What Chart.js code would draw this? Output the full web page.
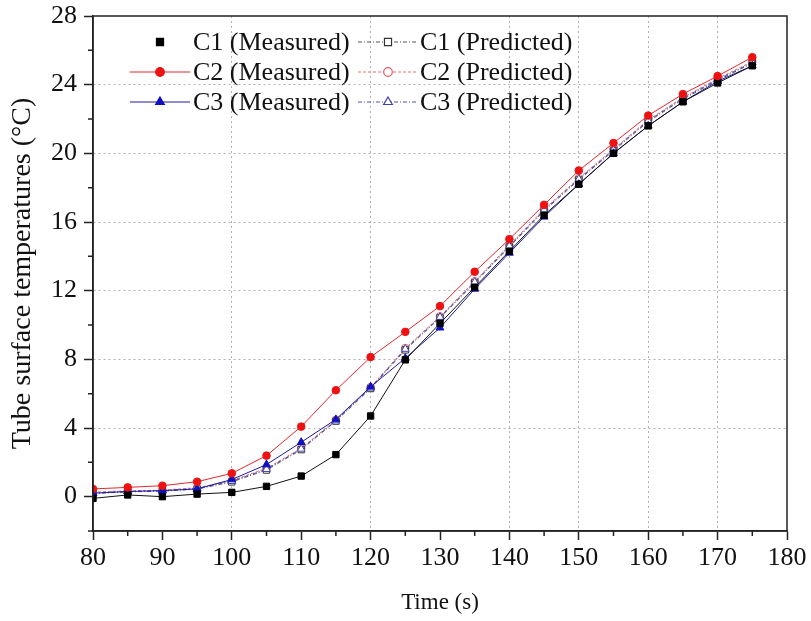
<!DOCTYPE html>
<html>
<head>
<meta charset="utf-8">
<script src="https://cdn.jsdelivr.net/npm/chart.js@4.4.1/dist/chart.umd.min.js"></script>
<style>
  html, body { margin: 0; padding: 0; background: #fff; }
  #wrap { width: 811px; height: 621px; }
</style>
</head>
<body>
<div id="wrap"><canvas id="tempChart" width="811" height="621"></canvas></div>
<script>
// Time axis (s)
const times = [80, 85, 90, 95, 100, 105, 110, 115, 120, 125, 130, 135, 140, 145, 150, 155, 160, 165, 170, 175];

// Measured tube surface temperatures (°C)
const c1Measured = [-0.1, 0.1, 0.0, 0.15, 0.25, 0.6, 1.2, 2.45, 4.7, 7.97, 10.1, 12.2, 14.3, 16.4, 18.2, 20.0, 21.6, 23.0, 24.1, 25.1];
const c2Measured = [0.45, 0.54, 0.64, 0.87, 1.36, 2.39, 4.08, 6.2, 8.13, 9.6, 11.1, 13.1, 15.0, 17.0, 19.0, 20.6, 22.2, 23.45, 24.5, 25.6];
const c3Measured = [0.2, 0.3, 0.35, 0.45, 1.0, 1.87, 3.17, 4.5, 6.4, 8.07, 9.84, 12.1, 14.2, 16.3, 18.2, 20.0, 21.6, 23.0, 24.2, 25.1];

// Predicted tube surface temperatures (°C)
const c1Predicted = [0.18, 0.28, 0.32, 0.44, 0.86, 1.55, 2.74, 4.4, 6.3, 8.55, 10.42, 12.45, 14.55, 16.65, 18.45, 20.15, 21.85, 23.15, 24.25, 25.25];
const c2Predicted = [0.26, 0.34, 0.38, 0.52, 0.94, 1.65, 2.82, 4.47, 6.38, 8.65, 10.5, 12.55, 14.65, 16.75, 18.55, 20.25, 21.95, 23.25, 24.35, 25.35];
const c3Predicted = [0.22, 0.31, 0.35, 0.48, 0.9, 1.6, 2.78, 4.43, 6.34, 8.6, 10.46, 12.5, 14.6, 16.7, 18.5, 20.2, 21.9, 23.2, 24.3, 25.3];

// Axis ticks
const xTickLabels = [80, 90, 100, 110, 120, 130, 140, 150, 160, 170, 180];
const yTickLabels = [0, 4, 8, 12, 16, 20, 24, 28];
const xGridAt = [100, 120, 140, 150, 160, 170];
const yGridAt = [4, 8, 12, 16, 20, 24];

const FONT = '"Liberation Serif", "Times New Roman", serif';

function toPoints(values) {
    return times.map((t, i) => ({ x: t, y: values[i] }));
}

// Marker drawing for the legend
function drawMarker(ctx, style, x, y, r, fill, stroke) {
    ctx.save();
    ctx.fillStyle = fill;
    ctx.strokeStyle = stroke;
    ctx.lineWidth = 1.2;
    ctx.setLineDash([]);
    ctx.beginPath();
    if (style === 'rect') {
        const s = r * Math.SQRT1_2;
        ctx.rect(x - s, y - s, 2 * s, 2 * s);
    } else if (style === 'triangle') {
        ctx.moveTo(x, y - r);
        ctx.lineTo(x + r * 0.866, y + r * 0.5);
        ctx.lineTo(x - r * 0.866, y + r * 0.5);
        ctx.closePath();
    } else {
        ctx.arc(x, y, r, 0, Math.PI * 2);
    }
    ctx.fill();
    ctx.stroke();
    ctx.restore();
}

const frameLegendPlugin = {
    id: 'frameLegend',
    afterDraw(chart) {
        const { ctx, chartArea, scales } = chart;

        // short minor ticks (odd steps)
        ctx.save();
        ctx.strokeStyle = '#222';
        ctx.lineWidth = 1.5;
        ctx.beginPath();
        scales.x.ticks.forEach((t) => {
            if (!xTickLabels.includes(t.value)) {
                const px = scales.x.getPixelForValue(t.value);
                ctx.moveTo(px, chartArea.bottom);
                ctx.lineTo(px, chartArea.bottom + 5);
            }
        });
        scales.y.ticks.forEach((t) => {
            if (!yTickLabels.includes(t.value)) {
                const py = scales.y.getPixelForValue(t.value);
                ctx.moveTo(chartArea.left, py);
                ctx.lineTo(chartArea.left - 5, py);
            }
        });
        ctx.stroke();
        // frame round plot area
        ctx.strokeRect(chartArea.left, chartArea.top, chartArea.right - chartArea.left, chartArea.bottom - chartArea.top);
        ctx.restore();

        // legend, two columns
        const cols = [{ lineX: 130, markX: 160, textX: 193 }, { lineX: 358, markX: 388, textX: 420 }];
        const rows = [42, 72, 102];
        chart.data.datasets.forEach((ds, i) => {
            const col = cols[i % 2];
            const y = rows[Math.floor(i / 2)];
            if (ds.showLegendLine !== false) {
                ctx.save();
                ctx.strokeStyle = ds.borderColor;
                ctx.lineWidth = ds.borderWidth;
                ctx.setLineDash(ds.borderDash || []);
                ctx.beginPath();
                ctx.moveTo(col.lineX, y);
                ctx.lineTo(col.lineX + 60, y);
                ctx.stroke();
                ctx.restore();
            }
            drawMarker(ctx, ds.pointStyle, col.markX, y, ds.pointRadius + 0.5, ds.pointBackgroundColor, ds.pointBorderColor);
            ctx.save();
            ctx.fillStyle = '#111';
            ctx.font = '26px ' + FONT;
            ctx.textBaseline = 'middle';
            ctx.fillText(ds.label, col.textX, y + 1);
            ctx.restore();
        });
    }
};

const ctx = document.getElementById('tempChart').getContext('2d');
new Chart(ctx, {
    type: 'line',
    data: {
        datasets: [
            {
                label: 'C1 (Measured)',
                data: toPoints(c1Measured),
                borderColor: '#111', borderWidth: 1,
                pointStyle: 'rect', pointRadius: 4.5,
                pointBackgroundColor: '#000', pointBorderColor: '#000',
                showLegendLine: false, order: 2
            },
            {
                label: 'C1 (Predicted)',
                data: toPoints(c1Predicted),
                borderColor: '#555', borderWidth: 1, borderDash: [4, 2, 1, 2],
                pointStyle: 'rect', pointRadius: 4.5,
                pointBackgroundColor: '#fff', pointBorderColor: '#333', order: 5
            },
            {
                label: 'C2 (Measured)',
                data: toPoints(c2Measured),
                borderColor: '#e8262b', borderWidth: 1,
                pointStyle: 'circle', pointRadius: 3.8,
                pointBackgroundColor: '#ee1111', pointBorderColor: '#ee1111', order: 1
            },
            {
                label: 'C2 (Predicted)',
                data: toPoints(c2Predicted),
                borderColor: '#e87070', borderWidth: 1, borderDash: [3, 2],
                pointStyle: 'circle', pointRadius: 3.8,
                pointBackgroundColor: '#fff', pointBorderColor: '#e06060', order: 6
            },
            {
                label: 'C3 (Measured)',
                data: toPoints(c3Measured),
                borderColor: '#1a1aa8', borderWidth: 1,
                pointStyle: 'triangle', pointRadius: 4.5,
                pointBackgroundColor: '#1010c0', pointBorderColor: '#1010c0', order: 3
            },
            {
                label: 'C3 (Predicted)',
                data: toPoints(c3Predicted),
                borderColor: '#5050c0', borderWidth: 1, borderDash: [4, 2, 1, 2],
                pointStyle: 'triangle', pointRadius: 4.5,
                pointBackgroundColor: '#fff', pointBorderColor: '#4040b0', order: 4
            }
        ]
    },
    options: {
        responsive: false,
        animation: false,
        layout: { padding: { left: 0, right: 24, top: 16, bottom: 0 } },
        plugins: {
            legend: { display: false },
            tooltip: { enabled: false }
        },
        scales: {
            x: {
                type: 'linear',
                min: 80, max: 180,
                afterFit(scale) {
                    scale.height = 90;
                    scale.paddingLeft = 0;
                    scale.paddingRight = 0;
                },
                ticks: {
                    stepSize: 5, autoSkip: false, maxRotation: 0, padding: 5,
                    color: '#111', font: { family: FONT, size: 26, lineHeight: 1 },
                    callback: (v) => xTickLabels.includes(v) ? String(v) : ''
                },
                grid: {
                    color: (c) => xGridAt.includes(c.tick && c.tick.value) ? '#b0b0b0' : 'rgba(0,0,0,0)',
                    lineWidth: 1,
                    tickColor: (c) => xTickLabels.includes(c.tick && c.tick.value) ? '#222' : 'rgba(0,0,0,0)',
                    tickLength: 9, tickWidth: 1.5
                },
                border: { display: true, color: '#222', width: 1.5, dash: [2, 3] },
                title: {
                    display: true, text: 'Time (s)', color: '#111',
                    font: { family: FONT, size: 23, lineHeight: 1 },
                    padding: { top: 0, bottom: 7 }
                }
            },
            y: {
                type: 'linear',
                min: -2, max: 28,
                afterFit(scale) {
                    scale.width = 93;
                    scale.paddingTop = 0;
                    scale.paddingBottom = 0;
                },
                ticks: {
                    stepSize: 2, autoSkip: false, padding: 7,
                    color: '#111', font: { family: FONT, size: 26, lineHeight: 1 },
                    callback: (v) => yTickLabels.includes(v) ? String(v) : ''
                },
                grid: {
                    color: (c) => yGridAt.includes(c.tick && c.tick.value) ? '#b0b0b0' : 'rgba(0,0,0,0)',
                    lineWidth: 1,
                    tickColor: (c) => yTickLabels.includes(c.tick && c.tick.value) ? '#222' : 'rgba(0,0,0,0)',
                    tickLength: 9, tickWidth: 1.5
                },
                border: { display: true, color: '#222', width: 1.5, dash: [2, 3] },
                title: {
                    display: true, text: 'Tube surface temperatures (°C)', color: '#111',
                    font: { family: FONT, size: 28, lineHeight: 1 },
                    padding: { top: 9, bottom: 0 }
                }
            }
        }
    },
    plugins: [frameLegendPlugin]
});
</script>
</body>
</html>
